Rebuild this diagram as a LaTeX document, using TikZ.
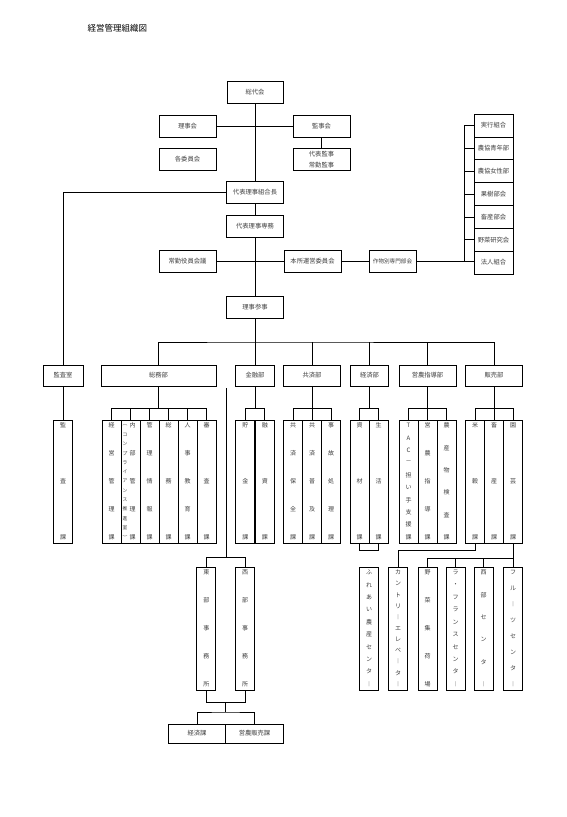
\documentclass[tikz,border=0pt]{standalone}
\usepackage{fontspec}
\setmainfont{Noto Sans CJK JP}
\usetikzlibrary{calc,positioning}

\tikzset{
  box/.style={draw, line width=0.7pt, inner sep=0pt, outer sep=0pt, minimum height=22pt,
    text=black!75, font=\fontsize{6.3}{7}\selectfont},
  deptbox/.style={box, minimum height=21pt},
  tbox/.style={draw, line width=0.7pt, inner sep=0pt, outer sep=0pt, minimum width=19pt, minimum height=123pt},
  tatechar/.style={inner sep=0pt, text=black!75, font=\fontsize{6}{6}\selectfont},
}

% vertical text, spread from top to bottom of a column node
\newcommand{\tate}[3][0pt]{%
  \foreach \ch [count=\k] in {#3} {\xdef\tatenum{\k}}%
  \foreach \ch [count=\k] in {#3} {%
    \pgfmathsetmacro\tatef{(\k-1)/(\tatenum-1)}%
    \node[tatechar] (#2-\k) at ($([shift={(#1,-5.5pt)}]#2.north)!\tatef!([shift={(#1,6pt)}]#2.south)$) {\ch};%
  }%
}
\newcommand{\tcol}[3]{\node[tbox] (#1) at (#2) {}; \tate{#1}{#3}}

\begin{document}
\begin{tikzpicture}[x=1pt,y=-1pt,line width=0.7pt]
\useasboundingbox (0,0) rectangle (567,817);
\fill[white] (0,0) rectangle (567,817);

\node[anchor=west,font=\fontsize{8.5}{10}\selectfont] (title) at (84,28) {経営管理組織図};

% top management
\node[box,minimum width=56pt] (soudai) at (255,92) {総代会};
\node[box,minimum width=57pt] (riji) at (187.5,126) {理事会};
\node[box,minimum width=57pt] (kanjikai) at (321.5,126) {監事会};
\node[box,minimum width=57pt] (iinkai) at (187.5,159) {各委員会};
\node[box,minimum width=57pt,align=center,font=\fontsize{6.3}{11}\selectfont] (daikan) at (321.5,159.5) {代表監事\\常勤監事};
\node[box,minimum width=57pt] (kumiaicho) at (255,192) {代表理事組合長};
\node[box,minimum width=57pt] (senmu) at (255,226) {代表理事専務};
\node[box,minimum width=57pt] (jokin) at (187.5,261.5) {常勤役員会議};
\node[box,minimum width=57pt] (honsho) at (312.5,261.5) {本所運営委員会};
\node[box,minimum width=47pt,font=\fontsize{5.6}{7}\selectfont] (bukai) at (392.5,261.5) {作物別専門部会};
\node[box,minimum width=57pt] (sanji) at (255,307) {理事参事};

% groups on the right
\node[box,minimum width=39pt,minimum height=22.86pt] (bu1) at (493.5,125.43) {実行組合};
\node[box,minimum width=39pt,minimum height=22.86pt,below=0pt of bu1] (bu2) {農協青年部};
\node[box,minimum width=39pt,minimum height=22.86pt,below=0pt of bu2] (bu3) {農協女性部};
\node[box,minimum width=39pt,minimum height=22.86pt,below=0pt of bu3] (bu4) {果樹部会};
\node[box,minimum width=39pt,minimum height=22.86pt,below=0pt of bu4] (bu5) {畜産部会};
\node[box,minimum width=39pt,minimum height=22.86pt,below=0pt of bu5] (bu6) {野菜研究会};
\node[box,minimum width=39pt,minimum height=22.86pt,below=0pt of bu6] (bu7) {法人組合};

\draw (soudai) -- (kumiaicho);
\draw (riji) -- (kanjikai);
\draw (kanjikai) -- (daikan);
\draw (kumiaicho) -- (senmu);
\draw (senmu) -- (sanji);
\draw (jokin) -- (honsho);
\draw (honsho) -- (bukai);
\draw (bukai.east) -- (bukai.east -| bu7.west);
\draw (bu1.west) -- ++(-10pt,0pt) |- (bukai.east -| bu7.west);
\foreach \i in {2,...,6} \draw (bu\i.west) -- ++(-10pt,0pt);

% departments
\node[deptbox,minimum width=40pt] (kansashitsu) at (63,375.5) {監査室};
\node[deptbox,minimum width=115pt] (somu) at (158.5,375.5) {総務部};
\node[deptbox,minimum width=39pt] (kinyu) at (255,375.5) {金融部};
\node[deptbox,minimum width=57pt] (kyosai) at (312,375.5) {共済部};
\node[deptbox,minimum width=38pt] (keizai) at (369.5,375.5) {経済部};
\node[deptbox,minimum width=57pt] (einou) at (427.5,375.5) {営農指導部};
\node[deptbox,minimum width=57pt] (hanbai) at (494,375.5) {販売部};

\draw (kumiaicho.west) -| (kansashitsu.north);
\coordinate (bar) at (255,342);
\draw (sanji) -- (kinyu);
\draw (somu.north) |- (bar) -| (hanbai.north);
\foreach \d in {kyosai,keizai,einou} \draw (\d.north) -- (\d.north |- bar);

% sections
\tcol{kansaka}{63,481.5}{監,査,課}
\tcol{so1}{111.5,481.5}{経,営,管,理,課}
\node[tbox] (so2) at (130.5,481.5) {};
\tate[2pt]{so2}{内,部,管,理,課}
\begin{scope}[tatechar/.append style={font=\fontsize{4.8}{5}\selectfont}]
\tate[-5.5pt]{so2}{︵,コ,ン,プ,ラ,イ,ア,ン,ス,推,進,室,︶}
\end{scope}
\tcol{so3}{149.5,481.5}{管,理,情,報,課}
\tcol{so4}{168.5,481.5}{総,務,課}
\tcol{so5}{187.5,481.5}{人,事,教,育,課}
\tcol{so6}{206.5,481.5}{審,査,課}
\tcol{ki1}{245.25,481.5}{貯,金,課}
\tcol{ki2}{264.75,481.5}{融,資,課}
\tcol{ky1}{293,481.5}{共,済,保,全,課}
\tcol{ky2}{312,481.5}{共,済,普,及,課}
\tcol{ky3}{331,481.5}{事,故,処,理,課}
\tcol{kz1}{359.5,481.5}{資,材,課}
\tcol{kz2}{378.5,481.5}{生,活,課}
\tcol{ei1}{408.5,481.5}{T,A,C,－,担,い,手,支,援,課}
\tcol{ei2}{427.5,481.5}{営,農,指,導,課}
\tcol{ei3}{446.5,481.5}{農,産,物,検,査,課}
\tcol{hb1}{475,481.5}{米,穀,課}
\tcol{hb2}{494,481.5}{畜,産,課}
\tcol{hb3}{513,481.5}{園,芸,課}

\draw (kansashitsu) -- (kansaka);
\draw (somu.south) -- ++(0pt,-22pt);
\draw (so1.north) -- ++(0pt,12pt) -| (so6.north);
\foreach \i in {2,...,5} \draw (so\i.north) -- ++(0pt,12pt);
\draw (kinyu.south) -- ++(0pt,-22pt);
\draw (ki1.north) -- ++(0pt,12pt) -| (ki2.north);
\draw (kyosai.south) -- ++(0pt,-22pt);
\draw (ky1.north) -- ++(0pt,12pt) -| (ky3.north);
\draw (ky2.north) -- ++(0pt,12pt);
\draw (keizai.south) -- ++(0pt,-22pt);
\draw (kz1.north) -- ++(0pt,12pt) -| (kz2.north);
\draw (einou.south) -- ++(0pt,-22pt);
\draw (ei1.north) -- ++(0pt,12pt) -| (ei3.north);
\draw (ei2.north) -- ++(0pt,12pt);
\draw (hanbai.south) -- ++(0pt,-22pt);
\draw (hb1.north) -- ++(0pt,12pt) -| (hb3.north);
\draw (hb2.north) -- ++(0pt,12pt);

% offices and facilities
\tcol{tobu}{206.25,628.5}{東,部,事,務,所}
\tcol{seibu}{245,628.5}{西,部,事,務,所}
\tcol{fureai}{369,628.5}{ふ,れ,あ,い,農,産,セ,ン,タ,︱}
\tcol{country}{398,628.5}{カ,ン,ト,リ,︱,エ,レ,ベ,︱,タ,︱}
\tcol{yasai}{427.5,628.5}{野,菜,集,荷,場}
\tcol{lafrance}{455.5,628.5}{ラ,・,フ,ラ,ン,ス,セ,ン,タ,︱}
\tcol{seibuc}{483.5,628.5}{西,部,セ,ン,タ,︱}
\tcol{fruit}{513,628.5}{フ,ル,︱,ツ,セ,ン,タ,︱}

\coordinate (jtop) at (226,388);
\draw (jtop) -- (jtop |- 0,557);
\draw (tobu.north) -- ++(0pt,10pt) -| (seibu.north);
\draw (kz1.south) -- ++(0pt,-7pt) -| (kz2.south);
\draw (hb1.south) -- ++(0pt,-7pt) -| (country.north);
\draw (hb3.south) -- (fruit.north);
\draw (yasai.north) -- ++(0pt,9pt) -| (fruit.north);
\draw (lafrance.north) -- ++(0pt,9pt);
\draw (seibuc.north) -- ++(0pt,9pt);

% bottom sections
\node[box,minimum width=57.5pt,minimum height=19pt] (keizaika) at (197,733.5) {経済課};
\node[box,minimum width=57.5pt,minimum height=19pt,right=0pt of keizaika] (einouka) {営農販売課};
\coordinate (jb) at ($(tobu.south)!.5!(seibu.south)$);
\draw (tobu.south) -- ++(0pt,-12pt) -| (seibu.south);
\draw ([yshift=-12pt]jb) -- ++(0pt,-10pt) coordinate (jb2);
\draw (keizaika.north) |- (jb2) -| (einouka.north);
\end{tikzpicture}
\end{document}
